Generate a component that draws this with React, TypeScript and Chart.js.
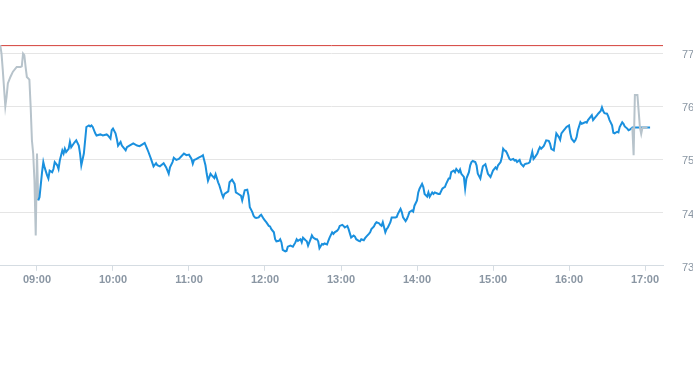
import React, { useEffect, useRef } from 'react';
import { Chart, registerables } from 'chart.js';

Chart.register(...registerables);

// Session open (minutes since midnight) used as the base for the offsets below
const openMinute = 9 * 60;

// Pre-market (grey), minutes relative to 09:00
const preMinutes = [-29, -28, -27, -25, -24, -23, -21, -19, -16, -13, -12, -11, -10, -9, -8, -6, -5, -4, -3, -2, -1, 0, 1];
const preValues = [77.15, 76.99, 76.68, 76.0, 76.18, 76.43, 76.55, 76.65, 76.74, 76.74, 76.75, 76.99, 76.96, 76.74, 76.55, 76.5, 75.99, 75.36, 75.11, 74.6, 73.57, 75.11, 74.23];

// Regular session (blue), minutes relative to 09:00
const sessionMinutes = [
  1, 2, 4, 5, 6, 8, 9, 10, 12, 13, 14, 16, 17, 18, 20, 21, 22, 23, 25, 26, 27, 29, 30, 31, 33, 34, 35, 37, 38, 39,
  41, 42, 43, 44, 46, 47, 50, 52, 55, 56, 58, 59, 60, 62, 63, 64, 66, 67, 68, 70, 71, 73, 76, 79, 81, 83, 85, 87, 88, 90,
  92, 94, 95, 97, 99, 100, 102, 104, 105, 107, 108, 110, 112, 114, 116, 118, 120, 122, 123, 124, 126, 128, 130, 131, 133, 134, 135, 137, 138, 140,
  141, 143, 144, 146, 147, 148, 151, 152, 154, 156, 157, 159, 161, 162, 164, 166, 167, 168, 170, 171, 172, 173, 175, 176, 177, 179, 180, 181, 183, 184,
  185, 187, 188, 189, 191, 192, 193, 194, 196, 197, 198, 200, 201, 202, 204, 205, 206, 208, 209, 210, 212, 213, 214, 216, 217, 218, 220, 221, 222, 223,
  225, 226, 227, 229, 230, 231, 233, 234, 235, 237, 238, 239, 241, 242, 243, 245, 246, 247, 248, 250, 251, 252, 254, 255, 256, 258, 259, 260, 262, 263,
  264, 266, 267, 268, 270, 271, 272, 273, 275, 276, 277, 279, 280, 281, 283, 284, 285, 287, 288, 289, 291, 292, 293, 294, 296, 297, 298, 300, 301, 302,
  304, 305, 306, 308, 309, 310, 312, 313, 314, 316, 317, 318, 320, 321, 322, 323, 325, 326, 327, 329, 330, 331, 333, 334, 335, 337, 338, 339, 341, 342,
  343, 344, 346, 347, 348, 350, 351, 352, 354, 355, 356, 358, 359, 360, 362, 363, 364, 366, 367, 368, 369, 370, 371, 373, 374, 376, 377, 378, 379, 381,
  382, 384, 385, 386, 388, 389, 391, 392, 393, 395, 396, 397, 398, 400, 401, 402, 404, 405, 406, 408, 409, 410, 412, 413, 414, 416, 417, 418, 420, 421,
  422, 424, 425, 426, 427, 429, 430, 431, 433, 434, 435, 437, 438, 439, 441, 442, 443, 445, 446, 447, 448, 450, 451, 452, 454, 455, 456, 458, 459, 460,
  462, 463, 464, 466, 467, 468, 470, 475, 480, 484,
];
const sessionValues = [
  74.23, 74.29, 74.76, 74.95, 74.85, 74.7, 74.64, 74.79, 74.76, 74.82, 74.95, 74.89, 74.82, 74.98, 75.17, 75.11, 75.2, 75.14, 75.2, 75.33, 75.23, 75.3, 75.33, 75.36, 75.26, 75.11, 74.89, 75.11, 75.36, 75.61,
  75.64, 75.62, 75.64, 75.61, 75.49, 75.45, 75.47, 75.45, 75.47, 75.45, 75.39, 75.55, 75.58, 75.49, 75.39, 75.26, 75.33, 75.26, 75.23, 75.17, 75.23, 75.26, 75.3, 75.26, 75.25, 75.28, 75.31, 75.2, 75.14, 75.01,
  74.87, 74.93, 74.89, 74.87, 74.91, 74.93, 74.85, 74.73, 74.85, 74.95, 75.03, 74.99, 75.01, 75.06, 75.11, 75.08, 75.09, 75.01, 74.92, 74.99, 75.01, 75.04, 75.06, 75.08, 74.89, 74.73, 74.6, 74.73, 74.7, 74.65,
  74.72, 74.57, 74.51, 74.35, 74.29, 74.35, 74.4, 74.57, 74.62, 74.54, 74.38, 74.35, 74.32, 74.23, 74.42, 74.43, 74.32, 74.1, 74.01, 73.94, 73.91, 73.9, 73.91, 73.94, 73.96, 73.88, 73.85, 73.82, 73.75, 73.74,
  73.69, 73.63, 73.5, 73.46, 73.47, 73.5, 73.44, 73.3, 73.27, 73.28, 73.36, 73.38, 73.37, 73.36, 73.44, 73.5, 73.47, 73.5, 73.44, 73.53, 73.48, 73.46, 73.38, 73.5, 73.57, 73.53, 73.5, 73.5, 73.46, 73.33,
  73.41, 73.4, 73.42, 73.4, 73.47, 73.53, 73.63, 73.6, 73.63, 73.66, 73.69, 73.75, 73.77, 73.75, 73.72, 73.75, 73.69, 73.61, 73.53, 73.57, 73.55, 73.5, 73.47, 73.46, 73.5, 73.48, 73.52, 73.55, 73.6, 73.63,
  73.69, 73.74, 73.79, 73.82, 73.8, 73.77, 73.75, 73.82, 73.63, 73.69, 73.72, 73.82, 73.91, 73.91, 73.91, 73.92, 73.98, 74.07, 74.01, 73.91, 73.84, 73.88, 73.94, 74.01, 74.04, 74.02, 74.13, 74.23, 74.38, 74.45,
  74.54, 74.48, 74.35, 74.3, 74.38, 74.3, 74.38, 74.35, 74.38, 74.36, 74.35, 74.35, 74.45, 74.47, 74.48, 74.54, 74.64, 74.64, 74.76, 74.79, 74.76, 74.82, 74.76, 74.81, 74.73, 74.67, 74.45, 74.64, 74.76, 74.89,
  74.95, 74.97, 74.95, 74.89, 74.73, 74.64, 74.76, 74.87, 74.91, 74.82, 74.73, 74.67, 74.73, 74.79, 74.85, 74.82, 74.89, 74.95, 75.04, 75.2, 75.17, 75.16, 75.12, 75.01, 74.99, 75.01, 74.98, 74.99, 74.95, 74.99,
  74.92, 74.87, 74.91, 74.92, 74.93, 74.95, 75.14, 75.01, 75.04, 75.11, 75.18, 75.23, 75.2, 75.25, 75.3, 75.36, 75.35, 75.3, 75.2, 75.17, 75.33, 75.49, 75.42, 75.37, 75.49, 75.55, 75.58, 75.61, 75.64, 75.49,
  75.39, 75.33, 75.36, 75.42, 75.55, 75.7, 75.67, 75.68, 75.7, 75.69, 75.74, 75.8, 75.83, 75.74, 75.8, 75.83, 75.86, 75.91, 75.98, 75.91, 75.87, 75.86, 75.81, 75.74, 75.64, 75.5, 75.49, 75.52, 75.51, 75.61,
  75.7, 75.67, 75.62, 75.58, 75.55, 75.56, 75.6, 75.6, 75.6, 75.6,
];

// After-hours (grey), minutes relative to 09:00
const postMinutes = [470, 471, 472, 474, 476, 477, 478, 482];
const postValues = [75.6, 75.08, 76.21, 76.21, 75.6, 75.48, 75.6, 75.6];

// Reference level (red line)
const referenceLevel = 77.14;

// Axis ticks
const xTickLabels = ['09:00', '10:00', '11:00', '12:00', '13:00', '14:00', '15:00', '16:00', '17:00'];
const yTickValues = [73, 74, 75, 76, 77];
const xStart = '08:30:48';
const xEnd = '17:14:12';

const toMinutes = (s: string) => {
  const p = s.split(':').map(Number);
  return p[0] * 60 + p[1] + (p[2] || 0) / 60;
};
const fmt = (m: number) => {
  const h = Math.floor(m / 60);
  const mm = Math.round(m - h * 60);
  return String(h).padStart(2, '0') + ':' + String(mm).padStart(2, '0');
};
const pts = (mins: number[], vals: number[]) => mins.map((m, i) => ({ x: openMinute + m, y: vals[i] }));

export default function App() {
  const ref = useRef<HTMLCanvasElement | null>(null);
  useEffect(() => {
    document.body.style.margin = '0';
    if (!ref.current) return;
    const xMin = toMinutes(xStart);
    const xMax = toMinutes(xEnd);
    const grey = '#b7c3cb';
    const text = '#8a96a3';
    const chart = new Chart(ref.current, {
      type: 'line',
      data: {
        datasets: [
          { label: 'post', data: pts(postMinutes, postValues), borderColor: grey, borderWidth: 2, pointRadius: 0, tension: 0 },
          { label: 'session', data: pts(sessionMinutes, sessionValues), borderColor: '#1a90de', borderWidth: 2, pointRadius: 0, tension: 0 },
          { label: 'pre', data: pts(preMinutes, preValues), borderColor: grey, borderWidth: 2, pointRadius: 0, tension: 0 },
          { label: 'ref', data: [{ x: xMin, y: referenceLevel }, { x: xMax, y: referenceLevel }], borderColor: '#d4403a', borderWidth: 1, pointRadius: 0 },
        ],
      },
      options: {
        responsive: false,
        animation: false,
        events: [],
        layout: { padding: { top: 37.1, left: 0, right: 0, bottom: 0 } },
        plugins: { legend: { display: false }, tooltip: { enabled: false } },
        scales: {
          x: {
            type: 'linear',
            min: xMin,
            max: xMax,
            afterBuildTicks: (s: any) => {
              s.ticks = xTickLabels.map((t) => ({ value: toMinutes(t) }));
            },
            ticks: {
              callback: (v: any) => fmt(Number(v)),
              color: text,
              font: { family: "'Liberation Sans', Arial, sans-serif", size: 11, weight: 'bold' },
              maxRotation: 0,
              autoSkip: false,
              padding: 3,
            },
            grid: { drawOnChartArea: false, tickLength: 5, color: '#d5dce2' },
            border: { color: '#d5dce2' },
          },
          y: {
            position: 'right',
            min: 73,
            max: 77.3,
            afterBuildTicks: (s: any) => {
              s.ticks = yTickValues.map((v) => ({ value: v }));
            },
            afterFit: (s: any) => {
              s.width = 30;
              s.paddingTop = 0;
              s.paddingBottom = 0;
            },
            ticks: {
              color: text,
              font: { family: "'Liberation Sans', Arial, sans-serif", size: 11 },
              padding: 19,
              labelOffset: 2,
            },
            grid: { color: '#e5e5e5', drawTicks: false },
            border: { display: false },
          },
        },
      },
    });
    return () => chart.destroy();
  }, []);
  return (
    <div style={{ width: 693, height: 365 }}>
      <canvas ref={ref} width={693} height={290} style={{ display: 'block' }} />
    </div>
  );
}
